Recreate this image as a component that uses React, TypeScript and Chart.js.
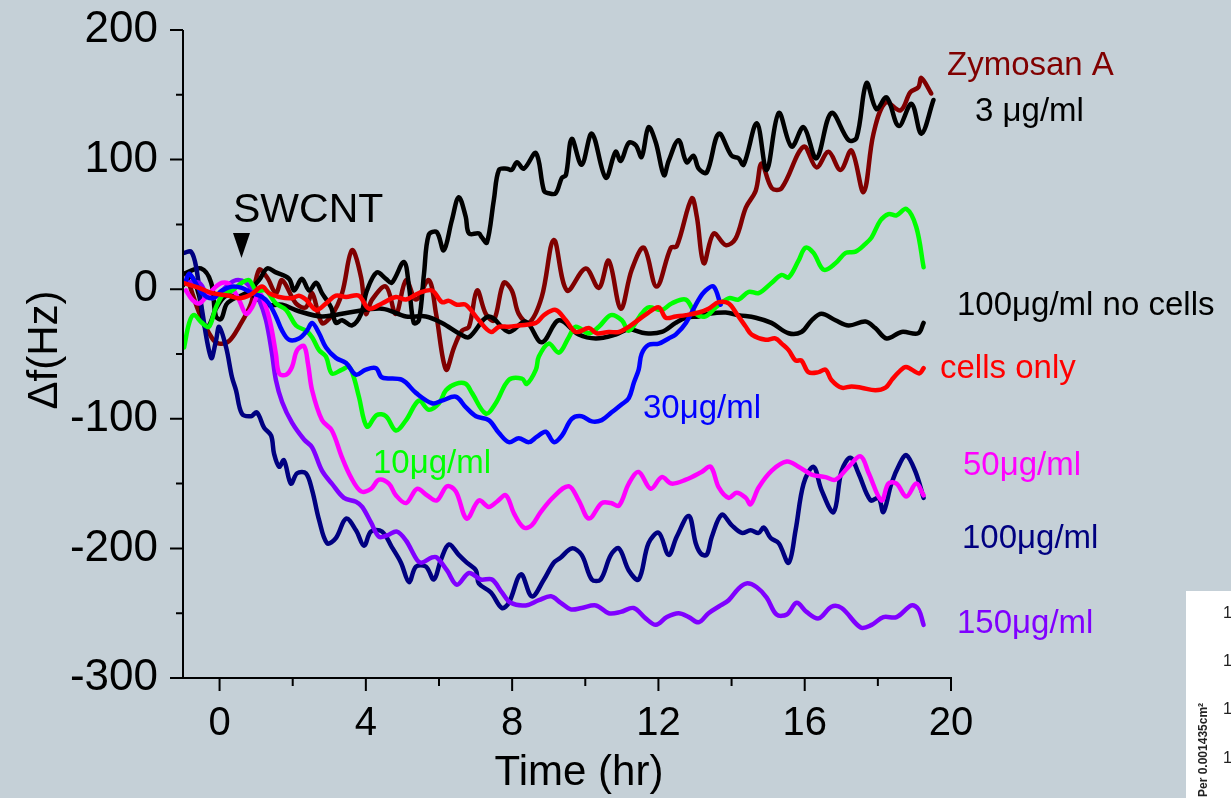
import React, { useEffect, useRef } from "react";
import { Chart, registerables } from "chart.js";

Chart.register(...registerables);

type Pt = [number, number];

// x ticks / y ticks
const xTickValues = [0, 4, 8, 12, 16, 20];
const xMinorTickValues = [2, 6, 10, 14, 18];
const yTickValues = [-300, -200, -100, 0, 100, 200];
const yMinorTickValues = [-250, -150, -50, 50, 150];

const zymosanA: Pt[] = [
  [-0.92, 12], [-0.56, -18], [-0.2, -38], [-0.01, -42], [0.26, -40], [0.53, -29], [0.86, -11], [1.08, 15],
  [1.3, 9], [1.54, -3], [1.71, 7], [2.09, -11], [2.36, -14], [2.53, -3], [2.8, -26], [3.07, -20],
  [3.35, -3], [3.62, 30], [3.87, 9], [4.0, -19], [4.17, -8], [4.55, 2], [4.82, -19], [5.1, 7],
  [5.37, -8], [5.72, 7], [5.92, -19], [6.19, -62], [6.41, -45], [6.63, -32], [6.82, -29], [7.04, -1],
  [7.28, -19], [7.5, -24], [7.77, 5], [7.99, -1], [8.18, -19], [8.46, -26], [8.81, -6], [9.14, 38],
  [9.5, -1], [10.01, 16], [10.37, 1], [10.64, 22], [10.97, -15], [11.27, 15], [11.6, 32], [11.95, 2],
  [12.34, 32], [12.5, 33], [12.91, 70], [13.05, 56], [13.24, 20], [13.51, 43], [13.84, 34], [14.11, 39],
  [14.39, 63], [14.66, 76], [14.82, 97], [15.1, 78], [15.37, 78], [15.97, 110], [16.32, 94], [16.65, 106],
  [16.98, 92], [17.28, 107], [17.61, 75], [17.88, 120], [18.21, 144], [18.62, 138], [18.89, 152], [19.11, 156],
  [19.19, 163], [19.46, 151],
];

const black3ug: Pt[] = [
  [-0.97, 12], [-0.51, 16], [-0.23, 5], [-0.1, -21], [0.04, -23], [0.18, -12], [0.34, -8], [0.72, -3],
  [1.08, 7], [1.3, 16], [1.54, 13], [1.9, 8], [2.04, -1], [2.25, 8], [2.45, -1], [2.64, 5],
  [2.8, -3], [3.05, -14], [3.18, -26], [3.35, -24], [3.62, -28], [3.87, -19], [4.03, -1], [4.3, 13],
  [4.55, 8], [4.71, 5], [5.04, 21], [5.18, 2], [5.31, -26], [5.45, -24], [5.59, 12], [5.72, 42],
  [5.94, 44], [6.13, 30], [6.35, 53], [6.54, 71], [6.73, 56], [6.82, 43], [7.09, 43], [7.17, 40],
  [7.31, 36], [7.5, 69], [7.64, 92], [7.86, 93], [7.99, 92], [8.13, 98], [8.32, 93], [8.65, 105],
  [8.87, 76], [9.0, 74], [9.19, 74], [9.36, 86], [9.47, 88], [9.63, 116], [9.9, 96], [10.18, 120],
  [10.56, 86], [10.83, 106], [10.97, 99], [11.19, 113], [11.38, 111], [11.54, 102], [11.73, 125], [11.93, 113],
  [12.15, 88], [12.28, 99], [12.55, 115], [12.77, 98], [12.96, 103], [13.1, 93], [13.32, 90], [13.65, 120],
  [14.0, 103], [14.19, 101], [14.33, 96], [14.69, 128], [14.96, 92], [15.29, 136], [15.64, 110], [15.97, 125],
  [16.32, 101], [16.73, 136], [17.2, 115], [17.42, 117], [17.69, 159], [17.96, 139], [18.24, 148], [18.57, 126],
  [18.92, 143], [19.19, 120], [19.52, 146],
];

const noCells: Pt[] = [
  [-1.0, 3], [-0.78, 10], [-0.56, -5], [-0.42, -28], [-0.29, -28], [-0.1, -15], [0.18, -5], [0.53, -6],
  [0.81, -3], [1.27, -12], [1.71, -12], [2.17, -17], [2.8, -21], [3.54, -18], [4.44, -15], [5.1, -21],
  [5.64, -21], [6.08, -26], [6.6, -35], [6.82, -37], [7.36, -21], [7.91, -33], [8.37, -25], [8.81, -41],
  [9.28, -24], [9.82, -35], [10.29, -38], [10.83, -35], [11.19, -31], [11.65, -34], [12.09, -33], [12.47, -26],
  [12.75, -22], [13.1, -21], [13.37, -19], [13.84, -18], [14.19, -20], [14.66, -22], [15.09, -26], [15.56, -34],
  [15.91, -33], [16.19, -24], [16.46, -19], [16.84, -24], [17.2, -28], [17.66, -25], [17.93, -30], [18.24, -38],
  [18.65, -33], [19.1, -34], [19.25, -26],
];

const cellsOnly: Pt[] = [
  [-1.02, 5], [-0.56, 1], [-0.2, -3], [0.26, -5], [0.53, -7], [0.86, -4], [1.16, 2], [1.35, -3],
  [1.63, -6], [1.98, -7], [2.17, -5], [2.36, -8], [2.64, -16], [2.91, -11], [3.18, -5], [3.46, -6],
  [3.81, -5], [4.08, -15], [4.44, -11], [4.82, -6], [5.1, -8], [5.45, -3], [5.81, -1], [6.08, -10],
  [6.27, -9], [6.49, -12], [6.73, -12], [7.09, -24], [7.42, -33], [7.64, -29], [7.91, -29], [8.18, -28],
  [8.65, -26], [8.87, -20], [9.19, -16], [9.47, -24], [9.74, -33], [10.1, -30], [10.31, -34], [10.64, -33],
  [10.92, -33], [11.19, -29], [11.68, -19], [12.01, -14], [12.2, -22], [12.47, -21], [12.75, -20], [13.1, -18],
  [13.37, -15], [13.65, -10], [13.92, -11], [14.14, -19], [14.39, -29], [14.55, -35], [14.93, -39], [15.2, -38],
  [15.37, -42], [15.56, -47], [15.75, -55], [15.91, -55], [16.1, -64], [16.38, -64], [16.57, -62], [16.73, -70],
  [17.01, -76], [17.28, -75], [17.55, -76], [17.93, -78], [18.21, -76], [18.38, -70], [18.57, -64], [18.77, -60],
  [19.13, -65], [19.25, -61],
];

const green10: Pt[] = [
  [-0.97, -45], [-0.83, -26], [-0.7, -20], [-0.48, -26], [-0.29, -29], [-0.1, -14], [0.12, -3], [0.34, -1],
  [0.61, 5], [0.81, 7], [1.0, -1], [1.27, -1], [1.54, -11], [1.82, -16], [2.09, -28], [2.36, -32],
  [2.53, -37], [2.72, -47], [2.91, -52], [3.07, -65], [3.35, -62], [3.54, -60], [3.67, -68], [3.81, -83],
  [4.03, -106], [4.3, -97], [4.55, -98], [4.82, -109], [5.1, -101], [5.45, -86], [5.72, -93], [6.0, -88],
  [6.19, -78], [6.46, -73], [6.73, -73], [6.9, -80], [7.28, -96], [7.55, -88], [7.91, -70], [8.27, -69],
  [8.4, -73], [8.65, -62], [8.73, -52], [9.0, -42], [9.28, -49], [9.55, -37], [9.74, -29], [10.1, -34],
  [10.37, -29], [10.7, -20], [11.0, -24], [11.19, -32], [11.54, -19], [11.73, -14], [12.09, -16], [12.36, -11],
  [12.75, -8], [13.02, -19], [13.29, -21], [13.57, -14], [13.92, -7], [14.19, -8], [14.47, -2], [14.74, -3],
  [15.1, 5], [15.37, 11], [15.56, 9], [15.83, 22], [16.02, 32], [16.24, 28], [16.52, 15], [16.84, 20],
  [17.12, 28], [17.39, 29], [17.66, 35], [17.83, 40], [18.07, 53], [18.29, 58], [18.51, 57], [18.78, 62],
  [19.05, 48], [19.25, 17],
];

const blue30: Pt[] = [
  [-0.94, 5], [-0.83, 12], [-0.7, 7], [-0.48, -3], [-0.2, -7], [0.07, -1], [0.34, 2], [0.61, 1],
  [0.89, -3], [1.16, -6], [1.35, -11], [1.54, -21], [1.71, -32], [1.9, -39], [2.17, -38], [2.39, -32],
  [2.53, -26], [2.72, -34], [2.91, -45], [3.18, -53], [3.46, -57], [3.73, -66], [4.0, -62], [4.28, -61],
  [4.44, -68], [4.99, -70], [5.37, -80], [5.81, -88], [6.08, -86], [6.46, -83], [6.73, -91], [7.01, -98],
  [7.36, -101], [7.64, -111], [7.91, -118], [8.18, -115], [8.46, -118], [8.67, -114], [8.92, -110], [9.14, -118],
  [9.36, -113], [9.63, -100], [9.9, -98], [10.18, -102], [10.45, -101], [10.72, -95], [10.99, -89], [11.19, -84],
  [11.33, -72], [11.46, -62], [11.54, -50], [11.73, -43], [12.01, -42], [12.28, -38], [12.47, -35], [12.75, -26],
  [13.1, -8], [13.29, -1], [13.51, 2], [13.7, -12],
];

const magenta50: Pt[] = [
  [-0.92, -1], [-0.75, -8], [-0.56, -11], [-0.37, -6], [-0.1, 2], [0.07, 5], [0.26, 4], [0.53, -8],
  [0.72, -19], [0.89, -14], [1.08, -3], [1.27, -14], [1.41, -29], [1.54, -50], [1.63, -65], [1.82, -66],
  [1.98, -60], [2.12, -47], [2.31, -44], [2.42, -58], [2.53, -78], [2.8, -101], [3.07, -109], [3.35, -130],
  [3.59, -145], [3.87, -156], [4.14, -154], [4.36, -147], [4.63, -150], [4.82, -159], [5.1, -165], [5.4, -154],
  [5.67, -159], [5.94, -163], [6.22, -152], [6.46, -156], [6.76, -177], [7.09, -163], [7.36, -168], [7.58, -164],
  [7.83, -159], [8.05, -173], [8.32, -184], [8.54, -182], [8.78, -172], [9.14, -160], [9.55, -152], [9.82, -163],
  [10.1, -177], [10.45, -165], [10.7, -165], [10.92, -167], [11.19, -150], [11.46, -141], [11.79, -154], [12.09, -145],
  [12.36, -150], [12.75, -147], [13.18, -141], [13.43, -137], [13.65, -153], [13.92, -161], [14.14, -157], [14.39, -161],
  [14.52, -166], [14.74, -153], [15.1, -140], [15.51, -133], [15.83, -137], [16.19, -143], [16.57, -145], [16.84, -147],
  [17.2, -137], [17.53, -129], [17.75, -142], [18.1, -163], [18.29, -150], [18.51, -150], [18.78, -160], [19.05, -150],
  [19.25, -159],
];

const navy100: Pt[] = [
  [-0.97, 28], [-0.78, 29], [-0.64, 17], [-0.48, -16], [-0.23, -53], [-0.1, -40], [-0.01, -29], [0.18, -45],
  [0.34, -68], [0.45, -78], [0.61, -96], [0.86, -98], [1.02, -95], [1.22, -107], [1.41, -113], [1.49, -127],
  [1.63, -137], [1.76, -132], [1.95, -150], [2.12, -142], [2.36, -142], [2.53, -155], [2.72, -178], [2.94, -196],
  [3.18, -192], [3.46, -177], [3.73, -186], [3.95, -198], [4.14, -187], [4.44, -187], [4.71, -199], [4.96, -211],
  [5.18, -226], [5.37, -214], [5.64, -214], [5.86, -224], [6.05, -209], [6.27, -197], [6.54, -205], [6.76, -211],
  [7.01, -217], [7.09, -227], [7.42, -234], [7.72, -246], [7.91, -242], [8.24, -220], [8.54, -237], [8.87, -224],
  [9.14, -211], [9.33, -207], [9.63, -200], [9.9, -205], [10.18, -224], [10.42, -224], [10.7, -205], [10.92, -200],
  [11.19, -217], [11.46, -224], [11.73, -196], [12.01, -188], [12.28, -205], [12.5, -191], [12.83, -175], [13.02, -196],
  [13.16, -204], [13.32, -205], [13.46, -191], [13.73, -174], [14.0, -182], [14.28, -188], [14.52, -186], [14.74, -188],
  [14.88, -184], [15.07, -192], [15.29, -196], [15.56, -211], [15.75, -186], [15.97, -150], [16.24, -137], [16.46, -155],
  [16.79, -172], [17.01, -140], [17.25, -130], [17.47, -142], [17.8, -163], [18.02, -161], [18.15, -172], [18.37, -150],
  [18.61, -134], [18.78, -128], [19.03, -141], [19.25, -161],
];

const purple150: Pt[] = [
  [-0.92, 5], [-0.56, 5], [-0.37, -3], [-0.2, -7], [-0.01, -4], [0.18, 2], [0.45, 7], [0.72, 5],
  [0.94, -3], [1.08, -8], [1.27, -24], [1.43, -49], [1.54, -70], [1.71, -87], [1.98, -103], [2.31, -116],
  [2.53, -122], [2.8, -140], [3.07, -150], [3.4, -161], [3.73, -164], [3.9, -168], [4.14, -180], [4.36, -191],
  [4.58, -190], [4.85, -187], [5.1, -194], [5.4, -209], [5.53, -211], [5.81, -207], [5.94, -207], [6.22, -217],
  [6.49, -228], [6.82, -219], [7.14, -224], [7.45, -224], [7.72, -234], [7.96, -242], [8.37, -244], [8.73, -240],
  [9.06, -237], [9.33, -242], [9.6, -247], [9.9, -246], [10.29, -244], [10.64, -250], [10.97, -249], [11.32, -246],
  [11.65, -254], [11.93, -259], [12.23, -253], [12.55, -250], [12.83, -253], [13.1, -257], [13.37, -250], [13.7, -244],
  [13.92, -240], [14.19, -231], [14.41, -227], [14.69, -230], [14.96, -238], [15.23, -251], [15.51, -251], [15.78, -242],
  [16.05, -249], [16.38, -254], [16.73, -245], [17.01, -246], [17.53, -261], [17.83, -259], [18.15, -253], [18.51, -253],
  [18.92, -244], [19.11, -247], [19.25, -259],
];

const FONT = '"Liberation Sans", Arial, sans-serif';
const BG = "#c5d0d7";

const toXY = (pts: Pt[]) => pts.map(([x, y]) => ({ x, y }));

const overlayPlugin = {
  id: "overlay",
  afterDraw(chart: any) {
    const ctx = chart.ctx as CanvasRenderingContext2D;
    const xs = chart.scales.x;
    const ys = chart.scales.y;
    const x0 = xs.getPixelForValue(-1);
    const x1 = xs.getPixelForValue(20);
    const yTop = ys.getPixelForValue(200);
    const yBot = ys.getPixelForValue(-300);
    ctx.save();
    ctx.strokeStyle = "#000";
    ctx.lineWidth = 2;
    ctx.lineCap = "butt";
    ctx.beginPath();
    ctx.moveTo(x0, yTop);
    ctx.lineTo(x0, yBot + 1);
    ctx.moveTo(x0 - 1, yBot);
    ctx.lineTo(x1 + 1, yBot);
    for (const v of yTickValues) {
      const p = ys.getPixelForValue(v);
      ctx.moveTo(x0 - 13, p);
      ctx.lineTo(x0, p);
    }
    for (const v of yMinorTickValues) {
      const p = ys.getPixelForValue(v);
      ctx.moveTo(x0 - 7, p);
      ctx.lineTo(x0, p);
    }
    for (const v of xTickValues) {
      const p = xs.getPixelForValue(v);
      ctx.moveTo(p, yBot);
      ctx.lineTo(p, yBot + 13);
    }
    for (const v of xMinorTickValues) {
      const p = xs.getPixelForValue(v);
      ctx.moveTo(p, yBot);
      ctx.lineTo(p, yBot + 8);
    }
    ctx.stroke();

    // axis titles
    ctx.fillStyle = "#000";
    ctx.font = `42px ${FONT}`;
    ctx.textAlign = "center";
    ctx.textBaseline = "alphabetic";
    ctx.fillText("Time (hr)", 579, 785);
    ctx.save();
    ctx.translate(57, 350);
    ctx.rotate(-Math.PI / 2);
    ctx.fillText("Δf(Hz)", 0, 0);
    ctx.restore();

    // SWCNT marker
    ctx.textAlign = "left";
    ctx.font = `41px ${FONT}`;
    ctx.fillText("SWCNT", 233, 222);
    ctx.beginPath();
    ctx.moveTo(233, 233);
    ctx.lineTo(250, 233);
    ctx.lineTo(241.5, 258);
    ctx.closePath();
    ctx.fill();

    // series labels
    const labels: [string, number, number, string][] = [
      ["Zymosan A", 947, 75, "#800000"],
      ["3 μg/ml", 975, 121, "#000000"],
      ["100μg/ml no cells", 957, 315, "#000000"],
      ["cells only", 940, 378, "#ff0000"],
      ["30μg/ml", 643, 418, "#0000ff"],
      ["10μg/ml", 373, 473, "#00ff00"],
      ["50μg/ml", 963, 475, "#ff00ff"],
      ["100μg/ml", 962, 548, "#000080"],
      ["150μg/ml", 957, 633, "#8000ff"],
    ];
    ctx.font = `33px ${FONT}`;
    for (const [t, x, y, c] of labels) {
      ctx.fillStyle = c;
      ctx.fillText(t, x, y);
    }

    // cropped neighbouring panel (bottom right)
    ctx.fillStyle = "#ffffff";
    ctx.fillRect(1186, 591, 45, 207);
    ctx.fillStyle = "#222";
    ctx.save();
    ctx.translate(1207, 797);
    ctx.rotate(-Math.PI / 2);
    ctx.font = `bold 12px "Liberation Sans Narrow", "Liberation Sans", Arial, sans-serif`;
    ctx.fillText("Per 0.001435cm²", 0, 0);
    ctx.restore();
    ctx.font = `16px ${FONT}`;
    for (const yy of [618, 666, 714, 763]) ctx.fillText("1", 1223, yy);
    ctx.restore();
  },
};

export default function App() {
  const ref = useRef<HTMLCanvasElement | null>(null);
  useEffect(() => {
    if (!ref.current) return;
    const mk = (label: string, pts: Pt[], color: string) => ({
      label,
      data: toXY(pts),
      borderColor: color,
      backgroundColor: color,
      borderWidth: 4.5,
      pointRadius: 0,
      tension: 0.35,
      borderJoinStyle: "round" as const,
      borderCapStyle: "round" as const,
      fill: false,
    });
    const chart = new Chart(ref.current, {
      type: "line",
      data: {
        datasets: [
          mk("cells only", cellsOnly, "#ff0000"),
          mk("30μg/ml", blue30, "#0000ff"),
          mk("10μg/ml", green10, "#00ff00"),
          mk("50μg/ml", magenta50, "#ff00ff"),
          mk("150μg/ml", purple150, "#8000ff"),
          mk("100μg/ml", navy100, "#000080"),
          mk("100μg/ml no cells", noCells, "#000000"),
          mk("3 μg/ml", black3ug, "#000000"),
          mk("Zymosan A", zymosanA, "#800000"),
        ],
      },
      options: {
        animation: false,
        responsive: false,
        maintainAspectRatio: false,
        layout: { padding: { left: 0, top: 30, right: 280, bottom: 0 } },
        plugins: { legend: { display: false }, tooltip: { enabled: false }, title: { display: false } },
        scales: {
          x: {
            type: "linear",
            min: -1,
            max: 20,
            grid: { display: false, drawTicks: false },
            border: { display: false },
            afterBuildTicks: (s: any) => {
              s.ticks = xTickValues.map((v) => ({ value: v }));
            },
            afterFit: (s: any) => {
              s.height = 120;
              s.paddingLeft = 0;
              s.paddingRight = 0;
              s.paddingTop = 0;
              s.paddingBottom = 0;
            },
            ticks: {
              autoSkip: false,
              maxRotation: 0,
              minRotation: 0,
              padding: 22,
              color: "#000",
              font: { family: FONT, size: 40 },
            },
          },
          y: {
            type: "linear",
            min: -300,
            max: 200,
            grid: { display: false, drawTicks: false },
            border: { display: false },
            afterBuildTicks: (s: any) => {
              s.ticks = yTickValues.map((v) => ({ value: v }));
            },
            afterFit: (s: any) => {
              s.width = 183;
              s.paddingTop = 0;
              s.paddingBottom = 0;
              s.paddingLeft = 0;
              s.paddingRight = 0;
            },
            ticks: {
              padding: 25,
              color: "#000",
              font: { family: FONT, size: 44 },
            },
          },
        },
      },
      plugins: [overlayPlugin],
    });
    return () => chart.destroy();
  }, []);
  return (
    <div style={{ position: "fixed", left: 0, top: 0, width: 1231, height: 798, background: BG }}>
      <canvas ref={ref} width={1231} height={798} style={{ display: "block", width: 1231, height: 798 }} />
    </div>
  );
}
